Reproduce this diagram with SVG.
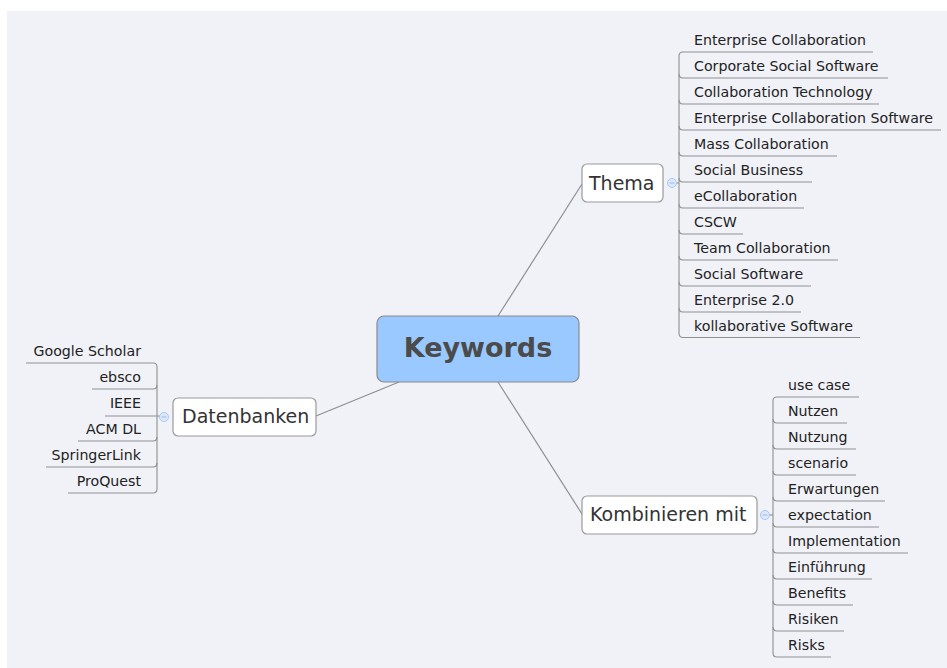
<svg xmlns="http://www.w3.org/2000/svg" width="947" height="668" viewBox="0 0 947 668">
  <style>
    .bg { fill: #f1f2f8; }
    .node { fill: #ffffff; stroke: #9a9a9a; stroke-width: 1.2; }
    .root { fill: #99c9ff; stroke: #8a8a8a; stroke-width: 1.2; }
    .rootText { font-family: "DejaVu Sans", sans-serif; font-size: 27px; font-weight: bold; fill: #4b4b4b; }
    .nodeText { font-family: "DejaVu Sans", sans-serif; font-size: 19px; fill: #333333; }
    .item { font-family: "DejaVu Sans", sans-serif; font-size: 14.2px; fill: #222222; }
    .link { fill: none; stroke: #8f8f8f; stroke-width: 1.2; }
    .tree { fill: none; stroke: #8f8f8f; stroke-width: 1.1; }
    .toggle { fill: #dce9fd; stroke: #a9c7f3; stroke-width: 1; }
    .minus { stroke: #9fb8dc; stroke-width: 1; }
  </style>

  <rect class="bg" x="7" y="11" width="940" height="657"/>

  <!-- main connectors from the central topic -->
  <g id="connectors">
    <line class="link" x1="498" y1="316" x2="582" y2="184"/>
    <line class="link" x1="399" y1="382" x2="316" y2="416"/>
    <line class="link" x1="498" y1="382" x2="582" y2="514"/>
  </g>

  <!-- central topic -->
  <g id="keywords">
    <rect class="root" x="377" y="316" width="202" height="66" rx="7"/>
    <text class="rootText" x="478" y="357" text-anchor="middle">Keywords</text>
  </g>

  <!-- Thema branch -->
  <g id="thema">
    <rect class="node" x="582" y="164" width="81" height="38" rx="5"/>
    <text class="nodeText" x="589" y="190">Thema</text>
    <line class="tree" x1="667" y1="183" x2="679" y2="183"/>
    <circle class="toggle" cx="672" cy="183" r="4.5"/>
    <line class="minus" x1="669.5" y1="183" x2="674.5" y2="183"/>
  </g>
  <g id="thema-items">
    <path class="tree" d="M679 56 Q679 52 683 52 L873 52 M679 56 L679 333 Q679 337.5 683 337.5 L860 337.5"/>
    <path class="tree" d="M679 74 Q679 78 683 78 L888 78"/>
    <path class="tree" d="M679 100 Q679 104 683 104 L879 104"/>
    <path class="tree" d="M679 126 Q679 130 683 130 L941 130"/>
    <path class="tree" d="M679 152 Q679 156 683 156 L837 156"/>
    <path class="tree" d="M679 178 Q679 182 683 182 L812 182"/>
    <path class="tree" d="M679 204 Q679 208 683 208 L804 208"/>
    <path class="tree" d="M679 230 Q679 234 683 234 L743 234"/>
    <path class="tree" d="M679 256 Q679 260 683 260 L838 260"/>
    <path class="tree" d="M679 282 Q679 286 683 286 L811 286"/>
    <path class="tree" d="M679 308 Q679 312 683 312 L801 312"/>
    <text class="item" x="694" y="45">Enterprise Collaboration</text>
    <text class="item" x="694" y="71">Corporate Social Software</text>
    <text class="item" x="694" y="97">Collaboration Technology</text>
    <text class="item" x="694" y="123">Enterprise Collaboration Software</text>
    <text class="item" x="694" y="149">Mass Collaboration</text>
    <text class="item" x="694" y="175">Social Business</text>
    <text class="item" x="694" y="201">eCollaboration</text>
    <text class="item" x="694" y="227">CSCW</text>
    <text class="item" x="694" y="253">Team Collaboration</text>
    <text class="item" x="694" y="279">Social Software</text>
    <text class="item" x="694" y="305">Enterprise 2.0</text>
    <text class="item" x="694" y="331">kollaborative Software</text>
  </g>

  <!-- Datenbanken branch -->
  <g id="datenbanken">
    <rect class="node" x="173" y="398" width="143" height="38" rx="5"/>
    <text class="nodeText" x="182" y="423">Datenbanken</text>
    <circle class="toggle" cx="164" cy="417" r="4.5"/>
    <line class="minus" x1="161.5" y1="417" x2="166.5" y2="417"/>
  </g>
  <g id="datenbanken-items">
    <path class="tree" d="M157 367 Q157 363 153 363 L26 363 M157 367 L157 489 Q157 493 153 493 L68 493"/>
    <path class="tree" d="M157 385 Q157 389 153 389 L92 389"/>
    <path class="tree" d="M159.5 416 L105 416"/>
    <path class="tree" d="M157 437 Q157 441 153 441 L78 441"/>
    <path class="tree" d="M157 463 Q157 467 153 467 L46 467"/>
    <text class="item" x="141" y="356" text-anchor="end">Google Scholar</text>
    <text class="item" x="141" y="382" text-anchor="end">ebsco</text>
    <text class="item" x="141" y="408" text-anchor="end">IEEE</text>
    <text class="item" x="141" y="434" text-anchor="end">ACM DL</text>
    <text class="item" x="141" y="460" text-anchor="end">SpringerLink</text>
    <text class="item" x="141" y="486" text-anchor="end">ProQuest</text>
  </g>

  <!-- Kombinieren mit branch -->
  <g id="kombinieren">
    <rect class="node" x="582" y="496" width="175" height="38" rx="5"/>
    <text class="nodeText" x="590" y="521">Kombinieren mit</text>
    <line class="tree" x1="760" y1="515" x2="773" y2="515"/>
    <circle class="toggle" cx="765" cy="515" r="4.5"/>
    <line class="minus" x1="762.5" y1="515" x2="767.5" y2="515"/>
  </g>
  <g id="kombinieren-items">
    <path class="tree" d="M773 401 Q773 397 777 397 L859 397 M773 401 L773 653 Q773 657 777 657 L831 657"/>
    <path class="tree" d="M773 419 Q773 423 777 423 L847 423"/>
    <path class="tree" d="M773 445 Q773 449 777 449 L856 449"/>
    <path class="tree" d="M773 471 Q773 475 777 475 L856 475"/>
    <path class="tree" d="M773 497 Q773 501 777 501 L885 501"/>
    <path class="tree" d="M773 523 Q773 527 777 527 L879 527"/>
    <path class="tree" d="M773 549 Q773 553 777 553 L908 553"/>
    <path class="tree" d="M773 575 Q773 579 777 579 L872 579"/>
    <path class="tree" d="M773 601 Q773 605 777 605 L853 605"/>
    <path class="tree" d="M773 627 Q773 631 777 631 L844 631"/>
    <text class="item" x="788" y="390">use case</text>
    <text class="item" x="788" y="416">Nutzen</text>
    <text class="item" x="788" y="442">Nutzung</text>
    <text class="item" x="788" y="468">scenario</text>
    <text class="item" x="788" y="494">Erwartungen</text>
    <text class="item" x="788" y="520">expectation</text>
    <text class="item" x="788" y="546">Implementation</text>
    <text class="item" x="788" y="572">Einführung</text>
    <text class="item" x="788" y="598">Benefits</text>
    <text class="item" x="788" y="624">Risiken</text>
    <text class="item" x="788" y="650">Risks</text>
  </g>
</svg>
